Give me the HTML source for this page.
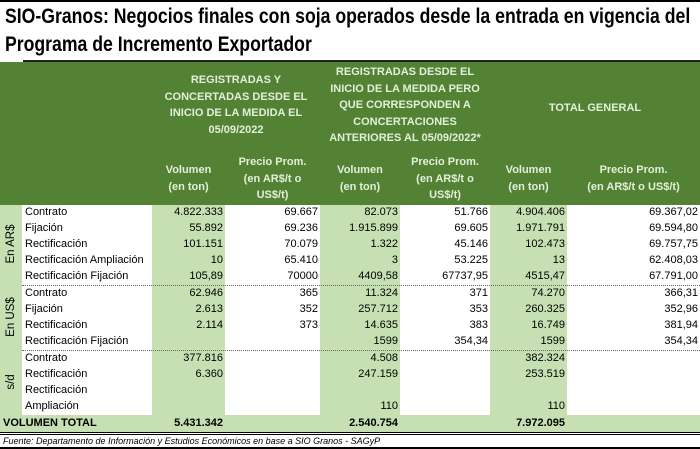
<!DOCTYPE html>
<html><head><meta charset="utf-8"><style>
*{margin:0;padding:0;box-sizing:border-box}
body{width:700px;height:449px;background:#fff;position:relative;overflow:hidden;font-family:"Liberation Sans",sans-serif;font-size:11px;color:#000}
.a{position:absolute;white-space:nowrap}
.t{font-weight:bold;font-size:21px;left:5px;transform:scaleX(0.84);transform-origin:0 0}
.g{background:#548235}
.lg{background:#c6e0b4}
.h{color:#e2efd9;font-weight:bold;text-align:center;line-height:16.5px;font-size:11px}
.r{text-align:right}
.rot{transform:rotate(-90deg);transform-origin:center;font-size:11.5px}
</style></head><body>
<div class="a" style="left:0;top:0;width:700px;height:2px;background:#000"></div>
<div class="a t" style="top:5px">SIO-Granos: Negocios finales con soja operados desde la entrada en vigencia del</div>
<div class="a t" style="top:33px">Programa de Incremento Exportador</div>
<div class="a g" style="left:0;top:62px;width:700px;height:143px"></div>
<div class="a" style="left:23px;top:60px;width:677px;height:2px;background:#222"></div>
<div class="a lg" style="left:0;top:205px;width:22px;height:210px"></div>
<div class="a lg" style="left:152px;top:205px;width:73px;height:210px"></div>
<div class="a lg" style="left:320px;top:205px;width:80px;height:210px"></div>
<div class="a lg" style="left:490px;top:205px;width:77px;height:210px"></div>
<div class="a lg" style="left:0;top:415px;width:700px;height:17px"></div>
<div class="a" style="left:22px;top:285px;width:678px;border-top:1px dotted #666"></div>
<div class="a" style="left:22px;top:350px;width:678px;border-top:1px dotted #666"></div>
<div class="a" style="left:0;top:432px;width:700px;height:3px;border-top:1px solid #000;border-bottom:1px solid #000"></div>
<div class="a" style="left:0;top:447px;width:700px;height:2px;background:#000"></div>

<div class="a h" style="left:152px;top:72px;width:168px">REGISTRADAS Y<br>CONCERTADAS DESDE EL<br>INICIO DE LA MEDIDA EL<br>05/09/2022</div>
<div class="a h" style="left:320px;top:64px;width:170px">REGISTRADAS DESDE EL<br>INICIO DE LA MEDIDA PERO<br>QUE CORRESPONDEN A<br>CONCERTACIONES<br>ANTERIORES AL 05/09/2022*</div>
<div class="a h" style="left:490px;top:100px;width:210px">TOTAL GENERAL</div>
<div class="a h" style="left:152px;top:162px;width:73px">Volumen<br>(en ton)</div>
<div class="a h" style="left:225px;top:154px;width:95px">Precio Prom.<br>(en AR$/t o<br>US$/t)</div>
<div class="a h" style="left:320px;top:162px;width:80px">Volumen<br>(en ton)</div>
<div class="a h" style="left:400px;top:154px;width:90px">Precio Prom.<br>(en AR$/t o<br>US$/t)</div>
<div class="a h" style="left:490px;top:162px;width:77px">Volumen<br>(en ton)</div>
<div class="a h" style="left:567px;top:162px;width:133px">Precio Prom.<br>(en AR$/t o US$/t)</div>

<div class="a rot" style="left:-9px;top:238px;width:40px;text-align:center">En AR$</div>
<div class="a rot" style="left:-9px;top:311px;width:40px;text-align:center">En US$</div>
<div class="a rot" style="left:-9px;top:376px;width:40px;text-align:center">s/d</div>

<div id="rows"></div>
<script>
var rows=[
[205,"Contrato","4.822.333","69.667","82.073","51.766","4.904.406","69.367,02"],
[221,"Fijación","55.892","69.236","1.915.899","69.605","1.971.791","69.594,80"],
[237,"Rectificación","101.151","70.079","1.322","45.146","102.473","69.757,75"],
[253,"Rectificación Ampliación","10","65.410","3","53.225","13","62.408,03"],
[269,"Rectificación Fijación","105,89","70000","4409,58","67737,95","4515,47","67.791,00"],
[286,"Contrato","62.946","365","11.324","371","74.270","366,31"],
[302,"Fijación","2.613","352","257.712","353","260.325","352,96"],
[318,"Rectificación","2.114","373","14.635","383","16.749","381,94"],
[334,"Rectificación Fijación","","","1599","354,34","1599","354,34"],
[351,"Contrato","377.816","","4.508","","382.324",""],
[367,"Rectificación","6.360","","247.159","","253.519",""],
[383,"Rectificación","","","","","",""],
[399,"Ampliación","","","110","","110",""]];
var R=[223,318,398,488,565,698],h="";
rows.forEach(function(r){
h+='<div class="a" style="left:25px;top:'+(r[0]+1)+'px">'+r[1]+'</div>';
for(var i=0;i<6;i++)if(r[i+2])h+='<div class="a r" style="left:'+(R[i]-90)+'px;width:90px;top:'+(r[0]+1)+'px">'+r[i+2]+'</div>';
});
h+='<div class="a" style="left:3px;top:417px;font-weight:bold">VOLUMEN TOTAL</div>';
[["5.431.342",223],["2.540.754",398],["7.972.095",565]].forEach(function(v){h+='<div class="a r" style="left:'+(v[1]-90)+'px;width:90px;top:417px;font-weight:bold">'+v[0]+'</div>'});
h+='<div class="a" style="left:3px;top:436px;font-size:9px;font-style:italic">Fuente: Departamento de Información y Estudios Económicos en base a SIO Granos - SAGyP</div>';
document.getElementById("rows").innerHTML=h;
</script>
</body></html>
